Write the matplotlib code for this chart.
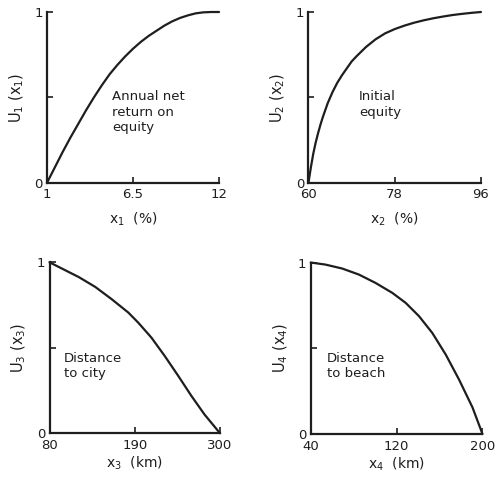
import numpy as np
import matplotlib
matplotlib.use("Agg")
import matplotlib.pyplot as plt
from matplotlib.ticker import FixedLocator, FixedFormatter

# utility curves
x1 = [1, 1.5, 2, 2.5, 3, 3.5, 4, 4.5, 5, 5.5, 6, 6.5, 7, 7.5, 8, 8.5,
      9, 9.5, 10, 10.5, 11, 11.5, 12]
u1 = [0, 0.09, 0.18, 0.265, 0.345, 0.425, 0.50, 0.57, 0.635, 0.69, 0.74,
      0.785, 0.825, 0.86, 0.89, 0.92, 0.945, 0.965, 0.98, 0.992, 0.998,
      1.0, 1.0]

x2 = [60, 60.5, 61, 61.5, 62, 62.5, 63, 64, 65, 66, 67, 68, 69, 70, 72,
      74, 76, 78, 80, 82, 84, 86, 88, 90, 92, 94, 96]
u2 = [0, 0.09, 0.17, 0.235, 0.29, 0.34, 0.385, 0.465, 0.53, 0.585, 0.63,
      0.67, 0.71, 0.74, 0.795, 0.84, 0.875, 0.90, 0.92, 0.937, 0.951,
      0.963, 0.973, 0.982, 0.989, 0.995, 1.0]

x3 = [80, 100.5, 117.6, 139, 160.3, 181.7, 194.5, 211.6, 228.7, 245.8,
      262.9, 280, 292.8, 300]
u3 = [1, 0.953, 0.914, 0.856, 0.784, 0.706, 0.647, 0.559, 0.452, 0.338,
      0.22, 0.11, 0.04, 0]

x4 = [40, 53.7, 69.3, 84.8, 100.4, 116, 128.4, 140.9, 153.3, 165.8,
      178.2, 190.7, 200]
u4 = [1, 0.988, 0.965, 0.93, 0.881, 0.823, 0.765, 0.687, 0.589, 0.463,
      0.317, 0.155, 0]

xticks = [[1, 6.5, 12], [60, 78, 96], [80, 190, 300], [40, 120, 200]]
xticklabels = [["1", "6.5", "12"], ["60", "78", "96"],
               ["80", "190", "300"], ["40", "120", "200"]]
xlabels = ["x$_1$  (%)", "x$_2$  (%)", "x$_3$  (km)", "x$_4$  (km)"]
ylabels = ["U$_1$ (x$_1$)", "U$_2$ (x$_2$)", "U$_3$ (x$_3$)", "U$_4$ (x$_4$)"]
notes = ["Annual net\nreturn on\nequity", "Initial\nequity",
         "Distance\nto city", "Distance\nto beach"]
note_pos = [(5.16, 0.414), (70.5, 0.458), (98.7, 0.394), (55.2, 0.396)]

curves = [(x1, u1), (x2, u2), (x3, u3), (x4, u4)]
boxes = [
    [0.095, 0.6225, 0.3475, 0.3527],
    [0.6232, 0.6225, 0.3485, 0.3527],
    [0.100, 0.1048, 0.3444, 0.3533],
    [0.6277, 0.1033, 0.3470, 0.3543],
]
xlabel_pad = [7, 7, 2, 2]

ink = "#1e1e1e"
plt.rcParams["font.family"] = ["DejaVu Sans"]

fig = plt.figure(figsize=(4.95, 4.84), dpi=100)
for i in range(4):
    ax = fig.add_axes(boxes[i])
    xs, us = curves[i]
    ax.plot(xs, us, color=ink, lw=1.6, clip_on=False,
            solid_capstyle="round", solid_joinstyle="round")
    ax.set_xlim(xticks[i][0], xticks[i][-1])
    ax.set_ylim(0, 1)
    for side in ("top", "right"):
        ax.spines[side].set_visible(False)
    for side in ("left", "bottom"):
        ax.spines[side].set_linewidth(1.6)
        ax.spines[side].set_color(ink)
    ax.xaxis.set_major_locator(FixedLocator(xticks[i]))
    ax.xaxis.set_major_formatter(FixedFormatter(xticklabels[i]))
    ax.yaxis.set_major_locator(FixedLocator([0, 0.5, 1]))
    ax.yaxis.set_major_formatter(FixedFormatter(["0", "", "1"]))
    ax.tick_params(direction="in", length=4, width=1.2, color=ink,
                   labelsize=9.5, labelcolor=ink)
    ax.tick_params(axis="y", pad=3)
    ax.tick_params(axis="x", pad=4)
    ax.set_xlabel(xlabels[i], fontsize=10, color=ink, labelpad=xlabel_pad[i])
    ax.set_ylabel(ylabels[i], fontsize=10.5, color=ink, labelpad=6)
    ax.text(note_pos[i][0], note_pos[i][1], notes[i], fontsize=9.5,
            color=ink, ha="left", va="center", linespacing=1.25)

fig.savefig("out.png", dpi=100)
